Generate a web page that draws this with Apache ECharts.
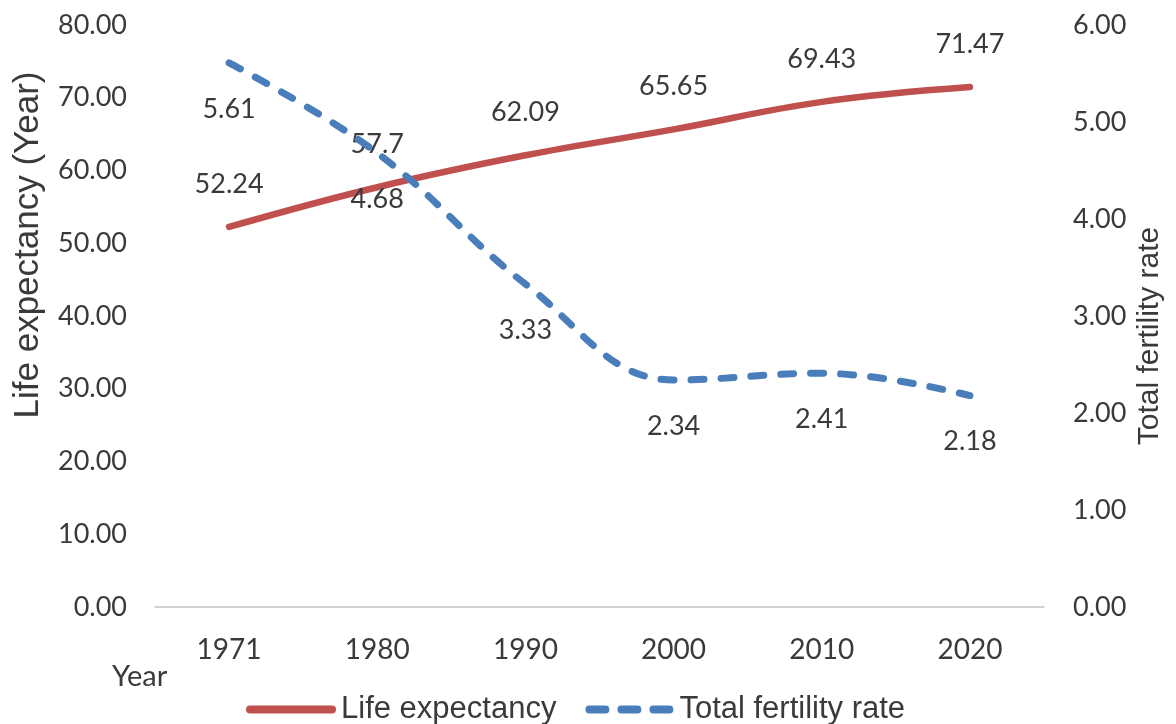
<!DOCTYPE html>
<html>
<head>
<meta charset="utf-8">
<script src="https://cdn.jsdelivr.net/npm/echarts@6/dist/echarts.min.js"></script>
<style>
html,body{margin:0;padding:0;background:#fff;}
#chart{width:1176px;height:724px;}
</style>
</head>
<body>
<div id="chart"></div>
<script>
var years = ['1971', '1980', '1990', '2000', '2010', '2020'];
var lifeExpectancy = [52.24, 57.7, 62.09, 65.65, 69.43, 71.47];
var fertilityRate = [5.61, 4.68, 3.33, 2.34, 2.41, 2.18];
var leftTicks = { min: 0, max: 80, interval: 10 };
var rightTicks = { min: 0, max: 6, interval: 1 };

var tickFont = 'Lato, "Open Sans", sans-serif';
var textColor = '#3a3a3a';
var red = '#c0504d';
var blue = '#4a7ebb';

var dashIcon = 'path://M4,0H20A4,4 0 0 1 20,8H4A4,4 0 0 1 4,0Z' +
  'M36,0H52A4,4 0 0 1 52,8H36A4,4 0 0 1 36,0Z' +
  'M68,0H84A4,4 0 0 1 84,8H68A4,4 0 0 1 68,0Z';

var chart = echarts.init(document.getElementById('chart'));
chart.setOption({
  backgroundColor: '#ffffff',
  animation: false,
  grid: { left: 155, right: 132, top: 25, bottom: 117 },
  title: {
    text: 'Year', left: 112, top: 662, padding: 0,
    textStyle: { fontFamily: tickFont, fontSize: 29, fontWeight: 'normal', color: textColor }
  },
  legend: {
    left: 241, top: 689,
    itemWidth: 90, itemHeight: 8, itemGap: 29,
    textStyle: { fontFamily: '"Liberation Sans", Arial, sans-serif', fontSize: 31, color: textColor },
    data: [
      { name: 'Life expectancy', icon: 'path://M4,0H86A4,4 0 0 1 86,8H4A4,4 0 0 1 4,0Z', itemStyle: { color: red, opacity: 1 } },
      { name: 'Total fertility rate', icon: dashIcon, itemStyle: { color: blue, opacity: 1 } }
    ]
  },
  graphic: [
    {
      type: 'text', x: 28, y: 245, rotation: Math.PI / 2,
      style: {
        text: 'Life expectancy (Year)', fill: textColor,
        font: '35px "Liberation Sans", Arial, sans-serif',
        textAlign: 'center', textVerticalAlign: 'middle'
      }
    },
    {
      type: 'text', x: 1150, y: 336, rotation: Math.PI / 2,
      style: {
        text: 'Total fertility rate', fill: textColor,
        font: '30px "Liberation Sans", Arial, sans-serif',
        textAlign: 'center', textVerticalAlign: 'middle'
      }
    }
  ],
  xAxis: {
    type: 'category',
    data: years,
    boundaryGap: true,
    axisLine: { show: true, lineStyle: { color: '#c4c4c4', width: 1.5 } },
    axisTick: { show: false },
    axisLabel: { margin: 29, fontFamily: tickFont, fontSize: 28, color: textColor },
    splitLine: { show: false }
  },
  yAxis: [
    {
      type: 'value', min: leftTicks.min, max: leftTicks.max, interval: leftTicks.interval,
      axisLine: { show: false }, axisTick: { show: false }, splitLine: { show: false },
      axisLabel: {
        margin: 28, fontFamily: tickFont, fontSize: 27, color: textColor,
        formatter: function (v) { return v.toFixed(2); }
      }
    },
    {
      type: 'value', min: rightTicks.min, max: rightTicks.max, interval: rightTicks.interval,
      position: 'right',
      axisLine: { show: false }, axisTick: { show: false }, splitLine: { show: false },
      axisLabel: {
        margin: 29, fontFamily: tickFont, fontSize: 27, color: textColor,
        formatter: function (v) { return v.toFixed(2); }
      }
    }
  ],
  series: [
    {
      name: 'Life expectancy',
      type: 'line',
      yAxisIndex: 0,
      data: lifeExpectancy,
      smooth: 0.4,
      symbol: 'circle',
      symbolSize: 1,
      showSymbol: true,
      itemStyle: { color: red },
      lineStyle: { color: red, width: 6.5, cap: 'round' },
      label: {
        show: true, position: 'top', distance: 29,
        fontFamily: tickFont, fontSize: 27, color: textColor
      },
      z: 2
    },
    {
      name: 'Total fertility rate',
      type: 'line',
      yAxisIndex: 1,
      data: fertilityRate,
      smooth: 0.4,
      symbol: 'circle',
      symbolSize: 1,
      showSymbol: true,
      itemStyle: { color: blue },
      lineStyle: { color: blue, width: 7, type: [13, 17], cap: 'round' },
      label: {
        show: true, position: 'bottom', distance: 32,
        fontFamily: tickFont, fontSize: 27, color: textColor
      },
      z: 3
    }
  ]
});
</script>
</body>
</html>
